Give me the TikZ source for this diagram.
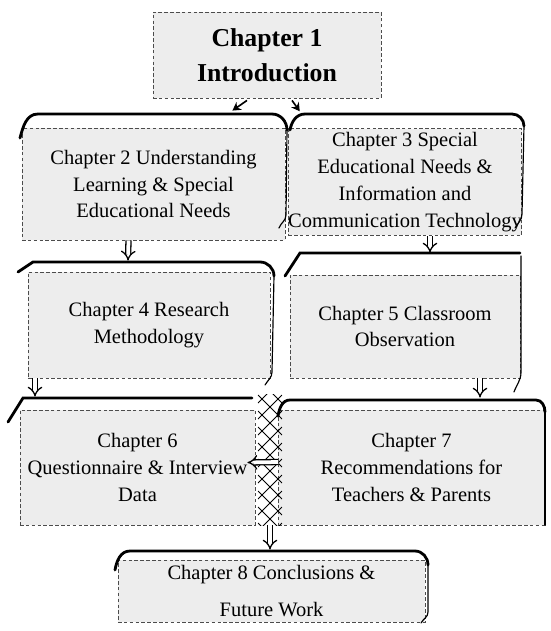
\documentclass[tikz,border=0pt]{standalone}
\usepackage{fontspec}
\setmainfont{Liberation Serif}
\usetikzlibrary{arrows.meta}
\usetikzlibrary{calc}

\tikzset{
  chapbox/.style={draw=black!70, densely dashed, line width=0.7pt, fill=black!7,
    align=center, inner sep=0pt, font=\fontsize{17.5}{23}\selectfont},
  tabline/.style={line width=2.4pt, line cap=round, solid},
  sideline/.style={line width=1pt, line cap=round, solid},
  tiparr/.style={line width=1.4pt, -{Stealth[length=7pt,width=8pt]}},
  dnarr/.style={double, double distance=3.2pt, line width=1.1pt, -{Implies}},
  braid/.style={line width=0.8pt}
}

\begin{document}
\begin{tikzpicture}[x=0.03cm, y=-0.03cm]

    \useasboundingbox (0,0) rectangle (551,631);

    % Chapter boxes
    \node[chapbox, minimum width=6.84cm, minimum height=2.58cm,
          font=\fontsize{22}{30}\selectfont\bfseries] (ch1) at (267,55) {Chapter 1\\Introduction};
    \node[chapbox, minimum width=7.89cm, minimum height=3.36cm] (ch2) at (153.5,184)
      {Chapter 2 Understanding\\Learning \& Special\\Educational Needs};
    \node[chapbox, minimum width=6.9cm, minimum height=3.2cm] (ch3) at (405,182)
      {Chapter 3 Special\\Educational Needs \&\\Information and\\Communication Technology};
    \node[chapbox, minimum width=7.26cm, minimum height=3.18cm] (ch4) at (149,325)
      {Chapter 4 Research\\Methodology};
    \node[chapbox, minimum width=6.9cm, minimum height=3.09cm] (ch5) at (405,326.5)
      {Chapter 5 Classroom\\Observation};
    \node[chapbox, minimum width=7.05cm, minimum height=3.45cm] (ch6) at (137.5,467.5)
      {Chapter 6\\Questionnaire \& Interview\\Data};
    \node[chapbox, minimum width=8.01cm, minimum height=3.45cm] (ch7) at (411.5,467.5)
      {Chapter 7\\Recommendations for\\Teachers \& Parents};
    \node[chapbox, minimum width=9.21cm, minimum height=1.86cm,
          font=\fontsize{17.5}{32}\selectfont] (ch8) at (271.5,591)
      {Chapter 8 Conclusions \&\\Future Work};

    % braided link between 6 and 7
    \node[minimum width=0.72cm, minimum height=3.9cm, inner sep=0pt] (link) at (270,460) {};
    \begin{scope}
      \clip (link.north west) rectangle (link.south east);
      \foreach \k in {-2,...,9} {
        \draw[braid] (258,379+16*\k) -- (282,403+16*\k);
        \draw[braid] (282,379+16*\k) -- (258,403+16*\k);
      }
    \end{scope}

    % folder tabs on top of the boxes
    \draw[tabline] (20,138) to[out=75,in=180] (38,114) -- (272,114) to[out=0,in=90] (287,130);
    \draw[sideline] (287,130) -- (286,215) to[out=-90,in=70] (279,228);
    \draw[tabline] (290,130) to[out=80,in=180] (305,114) -- (512,114) to[out=0,in=90] (524,126);
    \draw[sideline] (524,126) -- (522,214) to[out=-90,in=60] (515,228);
    \draw[tabline] (18,272) -- (33,262) -- (260,262) to[out=0,in=90] (274,276);
    \draw[sideline] (274,276) -- (272,372) to[out=-90,in=60] (265,385);
    \draw[tabline] (285,276) -- (300,253) -- (520,253);
    \draw[sideline] (521,256) -- (521,372) to[out=-90,in=70] (514,392);
    \draw[tabline] (8,422) -- (23,398) -- (252,398);
    \draw[tabline] (278,416) to[out=80,in=180] (290,400) -- (536,400) to[out=0,in=90] (545,412);
    \draw[sideline] (545,412) -- (545,525);
    \draw[tabline] (115,570) to[out=80,in=180] (130,551) -- (415,551) to[out=0,in=90] (428,565);
    \draw[sideline] (428,565) -- (428,612) to[out=-90,in=60] (421,623);

    % arrows
    \draw[tiparr] ($(ch1.south)+(-20,2)$) -- ($(ch2.north east)+(-53,-17)$);
    \draw[tiparr] ($(ch1.south)+(25,2)$) -- ($(ch3.north west)+(12,-17)$);
    \draw[dnarr] ($(ch2.south)+(-25,0)$) -- ($(ch4.north)+(-21,-11)$);
    \draw[dnarr] ($(ch3.south)+(25,0)$) -- ($(ch5.north)+(25,-22)$);
    \draw[dnarr] ($(ch4.south)+(-114,0)$) -- ($(ch6.north)+(-102.5,-13)$);
    \draw[dnarr] ($(ch5.south)+(75,0)$) -- ($(ch7.north)+(68.5,-12)$);
    \draw[dnarr] ($(link.east)+(-4,2)$) -- ($(ch6.east)+(-8,-5)$);
    \draw[dnarr] (link.south) -- ($(ch8.north)+(-1.5,-10)$);

\end{tikzpicture}
\end{document}
